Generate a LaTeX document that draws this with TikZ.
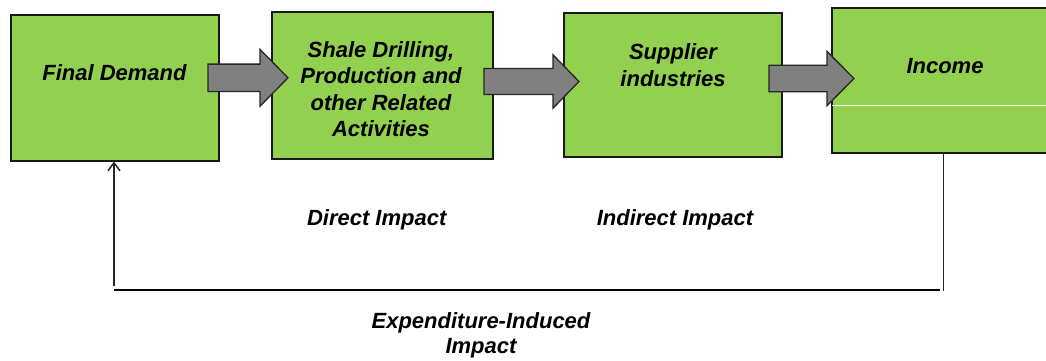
\documentclass[tikz,border=0pt]{standalone}
\usepackage{fontspec}
\setmainfont{Liberation Sans}
\usetikzlibrary{arrows.meta}
\definecolor{boxgreen}{RGB}{146,208,80}
\definecolor{arrowgray}{RGB}{128,128,128}
\newcommand\blockarr[6]{% tail, headbase, tip, cy, bodyhalf, headhalf
  \draw[barrow] (#1,#4-#5) -- (#2,#4-#5) -- (#2,#4-#6) -- (#3,#4) -- (#2,#4+#6) -- (#2,#4+#5) -- (#1,#4+#5) -- cycle;}
\begin{document}
\begin{tikzpicture}[x=1pt,y=-1pt,
  box/.style={draw=black!90, fill=boxgreen, line width=1.5pt, inner sep=0pt, anchor=north west},
  lbl/.style={font=\fontsize{22}{26.5}\selectfont\bfseries\itshape, inner sep=0pt, align=center},
  barrow/.style={fill=arrowgray, draw=black!85, line width=1.3pt, line join=miter},
  fb/.style={draw=black!85, line width=1.5pt}]
\clip (0,0) rectangle (1046,360);
\fill[white] (0,0) rectangle (1046,360);
% boxes
\node[box, minimum width=208pt, minimum height=146pt] (b1) at (10,14) {};
\node[box, minimum width=221pt, minimum height=147pt] (b2) at (271,11) {};
\node[box, minimum width=218pt, minimum height=144pt] (b3) at (563,12) {};
\node[box, minimum width=225pt, minimum height=145pt] (b4) at (831,7) {};
\draw[white, line width=1pt] (832,105.3) -- (1046,105.3);
% block arrows
\blockarr{208}{260}{288}{77.8}{13.7}{28.4}
\blockarr{484}{553}{579}{81.5}{13}{26.7}
\blockarr{769}{827}{854}{78.5}{13.3}{27.2}
% labels
\node[lbl, anchor=base] (t1) at (114.5,80) {Final Demand};
\node[lbl] (t2) at (381,89) {Shale Drilling,\\Production and\\other Related\\Activities};
\node[lbl] (t3) at (673,65) {Supplier\\industries};
\node[lbl, anchor=base] (t4) at (945,73) {Income};
\node[lbl, anchor=base] (d1) at (376.7,225) {Direct Impact};
\node[lbl, anchor=base] (d2) at (675,225) {Indirect Impact};
\node[lbl, font=\fontsize{22}{25}\selectfont\bfseries\itshape] (d3) at (481,335) {Expenditure-Induced\\Impact};
% feedback loop
\coordinate (f1) at (943.5,0 |- b4.south);
\coordinate (f2) at (943.5,290.5);
\coordinate (f3) at (940,290);
\coordinate (f4) at (114,290);
\coordinate (f5) at (114,286);
\coordinate (f6) at (114,0 |- b1.south);
\draw[fb] (f1) -- (f2);
\draw[line width=2.3pt] (f3) -- (f4);
\draw[fb, -{Straight Barb[length=8pt,width=12pt]}] (f5) -- (f6);
\end{tikzpicture}
\end{document}
